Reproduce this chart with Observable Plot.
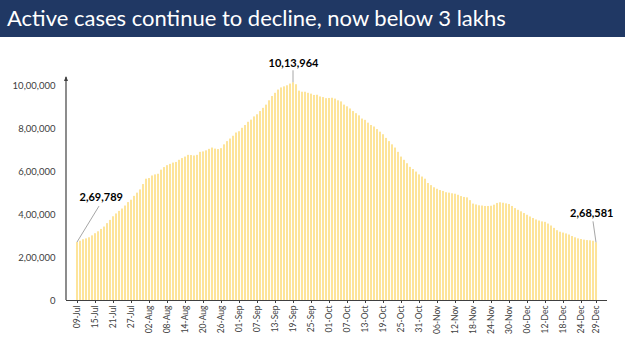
<!DOCTYPE html>
<html><head><meta charset="utf-8">
<script src="https://cdn.jsdelivr.net/npm/d3@7"></script>
<script src="https://cdn.jsdelivr.net/npm/@observablehq/plot@0.6"></script>
<style>
body{margin:0;background:#fff;width:625px;height:351px;overflow:hidden;font-family:Lato,sans-serif}
#title{position:absolute;left:0;top:0;width:625px;height:37px;background:#203864;color:#fff;font-size:22px;line-height:36px;padding-left:7px;box-sizing:border-box;white-space:nowrap}
#chart{position:absolute;left:0;top:37px}
</style></head><body>
<div id="title">Active cases continue to decline, now below 3 lakhs</div>
<div id="chart"></div>
<script>
// Daily active cases, 09-Jul to 29-Dec
const startDate = "2020-07-09";
const endDate = "2020-12-29";
const activeCases = [
  269789, 276000, 283000, 287000, 292000, 301000,
  311000, 320000, 331000, 342000, 358000, 373000,
  390000, 403000, 415000, 426000, 440000, 456000,
  467000, 485000, 500000, 515000, 540000, 565000,
  568000, 580000, 585000, 588000, 607000, 619000,
  628000, 634000, 640000, 643000, 653000, 661000,
  668000, 676000, 675000, 673000, 676000, 690000,
  692000, 697000, 704000, 710000, 705000, 703000,
  707000, 725000, 740000, 752000, 765000, 780000,
  786000, 802000, 815000, 830000, 840000, 855000,
  865000, 880000, 895000, 910000, 930000, 950000,
  965000, 980000, 990000, 995000, 1000000, 1008000,
  1013964, 1005000, 975000, 970000, 970000, 965000,
  961000, 955000, 956000, 948000, 945000, 940000,
  941000, 942000, 938000, 930000, 925000, 910000,
  902000, 892000, 880000, 870000, 860000, 845000,
  839000, 826000, 815000, 808000, 796000, 784000,
  772000, 755000, 740000, 725000, 710000, 690000,
  668000, 653000, 637000, 620000, 610000, 598000,
  585000, 575000, 565000, 545000, 535000, 525000,
  518000, 512000, 508000, 502000, 500000, 497000,
  495000, 490000, 484000, 480000, 478000, 465000,
  449000, 445000, 441000, 440000, 438000, 438000,
  439000, 444000, 452000, 455000, 453000, 450000,
  447000, 438000, 428000, 420000, 413000, 405000,
  397000, 389000, 382000, 375000, 370000, 366000,
  364000, 356000, 347000, 336000, 325000, 318000,
  314000, 310000, 305000, 298000, 292000, 287000,
  284000, 281000, 279000, 278000, 276000, 268581
];
const tickLabels = ["09-Jul","15-Jul","21-Jul","27-Jul","02-Aug","08-Aug","14-Aug","20-Aug","26-Aug",
  "01-Sep","07-Sep","13-Sep","19-Sep","25-Sep","01-Oct","07-Oct","13-Oct","19-Oct","25-Oct","31-Oct",
  "06-Nov","12-Nov","18-Nov","24-Nov","30-Nov","06-Dec","12-Dec","18-Dec","24-Dec","29-Dec"];
const yTicks = [0, 200000, 400000, 600000, 800000, 1000000];
const annotDates = ["09-Jul", "19-Sep", "29-Dec"];

const fmtDay = d3.utcFormat("%d-%b");
const days = d3.utcDay.range(new Date(startDate), d3.utcDay.offset(new Date(endDate), 1)).map(fmtDay);
const data = days.map((d, i) => ({date: d, value: activeCases[i]}));
const annots = annotDates.map(a => data.find(d => d.date === a));

function indian(n) {
  const s = String(Math.round(n));
  if (s.length <= 3) return s;
  const last3 = s.slice(-3);
  const rest = s.slice(0, -3).replace(/\B(?=(\d{2})+(?!\d))/g, ",");
  return rest + "," + last3;
}

// y-axis line with arrow
function yAxisLine(index, scales, values, dim) {
  const g = d3.create("svg:g");
  const x = dim.marginLeft;
  const top = dim.marginTop - 4;
  g.append("line").attr("x1", x).attr("x2", x).attr("y1", scales.y(0)).attr("y2", top)
    .attr("stroke", "#404040").attr("stroke-width", 1.2);
  g.append("path").attr("d", `M${x - 2},${top + 4}L${x},${top - 1}L${x + 2},${top + 4}Z`).attr("fill", "#404040");
  return g.node();
}

// leader lines from annotated bars
const leaderOffsets = [[22, -36, 0, 0], [0, -12, 0, 0], [-3, -21, 0, 0]];
function leaders(index, scales, values, dim) {
  const g = d3.create("svg:g");
  const bw = scales.x.bandwidth();
  annots.forEach((a, i) => {
    const x = scales.x(a.date) + bw / 2;
    const y = scales.y(a.value);
    const [ox, oy] = leaderOffsets[i];
    g.append("line").attr("x1", x).attr("y1", y).attr("x2", x + ox).attr("y2", y + oy)
      .attr("stroke", "#a6a6a6").attr("stroke-width", 1);
  });
  return g.node();
}

const chart = Plot.plot({
  width: 625,
  height: 314,
  marginLeft: 66,
  marginRight: 18,
  marginTop: 44,
  marginBottom: 51,
  style: {fontFamily: "Lato, sans-serif", color: "#404040", background: "#fff"},
  x: {type: "band", domain: days, paddingInner: 0.32, paddingOuter: 0.16},
  y: {domain: [0, 1020000]},
  marks: [
    Plot.barY(data, {x: "date", y: "value", fill: "#fde49a"}),
    Plot.axisY({ticks: yTicks, tickFormat: indian, tickSize: 0, tickPadding: 11, fontSize: 9.5, label: null}),
    Plot.axisX({ticks: tickLabels, tickRotate: -90, tickSize: 3, tickPadding: 2, fontSize: 8.5, label: null}),
    Plot.ruleY([0], {stroke: "#404040", strokeWidth: 1.2}),
    yAxisLine,
    leaders,
    Plot.text([annots[0]], {x: "date", y: "value", text: d => indian(d.value), dx: 2, dy: -45, textAnchor: "start", fontWeight: "bold", fontSize: 11, fill: "#000"}),
    Plot.text([annots[1]], {x: "date", y: "value", text: d => indian(d.value), dx: 0, dy: -19, textAnchor: "middle", fontWeight: "bold", fontSize: 11, fill: "#000"}),
    Plot.text([annots[2]], {x: "date", y: "value", text: d => indian(d.value), dx: 17, dy: -29, textAnchor: "end", fontWeight: "bold", fontSize: 11, fill: "#000"})
  ]
});
document.getElementById("chart").appendChild(chart);
</script></body></html>
